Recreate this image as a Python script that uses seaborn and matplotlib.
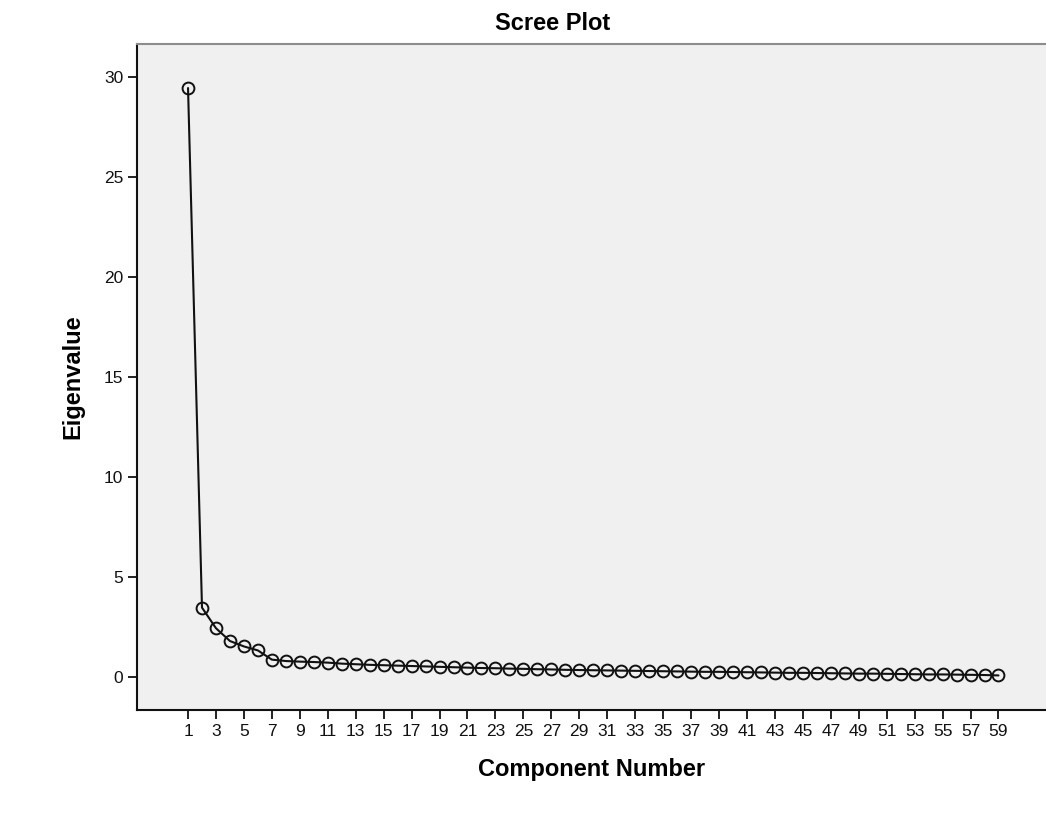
import numpy as np
import pandas as pd
import matplotlib
matplotlib.use("Agg")
import matplotlib.pyplot as plt
import seaborn as sns

componentes = list(range(1, 60))
autovalores = [29.45, 3.47, 2.44, 1.80, 1.53, 1.33, 0.87, 0.80, 0.77, 0.75,
               0.72, 0.67, 0.64, 0.61, 0.59, 0.57, 0.55, 0.53, 0.51, 0.49,
               0.47, 0.45, 0.44, 0.42, 0.41, 0.39, 0.38, 0.36, 0.35, 0.34,
               0.33, 0.32, 0.31, 0.30, 0.29, 0.28, 0.27, 0.26, 0.26, 0.25,
               0.24, 0.23, 0.22, 0.21, 0.21, 0.20, 0.19, 0.18, 0.17, 0.17,
               0.16, 0.15, 0.14, 0.13, 0.13, 0.12, 0.11, 0.10, 0.08]
ticks_x = list(range(1, 60, 2))
ticks_y = [0, 5, 10, 15, 20, 25, 30]

df = pd.DataFrame({"componente": componentes, "autovalor": autovalores})

sns.set_style("white")
plt.rcParams['font.family'] = ['Liberation Sans', 'DejaVu Sans']

fig = plt.figure(figsize=(10.46, 8.26), dpi=100)
ax = fig.add_axes([0.131, 0.1404, 0.869, 0.8063])
ax.set_facecolor("#f0f0f0")

sns.lineplot(data=df, x="componente", y="autovalor", ax=ax, color="#111111",
             lw=1.5, marker="o", markersize=8.5, markerfacecolor="none",
             markeredgecolor="#111111", markeredgewidth=1.4)

ax.set_xlim(-2.65, 62.4)
ax.set_ylim(-1.65, 31.65)
ax.set_xticks(ticks_x)
ax.set_yticks(ticks_y)
ax.tick_params(direction="out", length=6.5, width=1.3, color="#111111",
               labelsize=12.5, labelcolor="#111111", bottom=True, left=True)

for lado in ["left", "bottom"]:
    ax.spines[lado].set_color("#111111")
    ax.spines[lado].set_linewidth(1.5)
ax.spines["top"].set_color("#8c8c8c")
ax.spines["top"].set_linewidth(1.5)
ax.spines["right"].set_visible(False)

ax.set_xlabel("Component Number", fontsize=17, fontweight="bold", labelpad=14, color="black")
ax.set_ylabel("Eigenvalue", fontsize=17, fontweight="bold", labelpad=14, color="black")
fig.text(0.528, 0.972, "Scree Plot", ha="center", va="center", fontsize=17,
         fontweight="bold", color="black")

plt.savefig("out.png", dpi=100)
